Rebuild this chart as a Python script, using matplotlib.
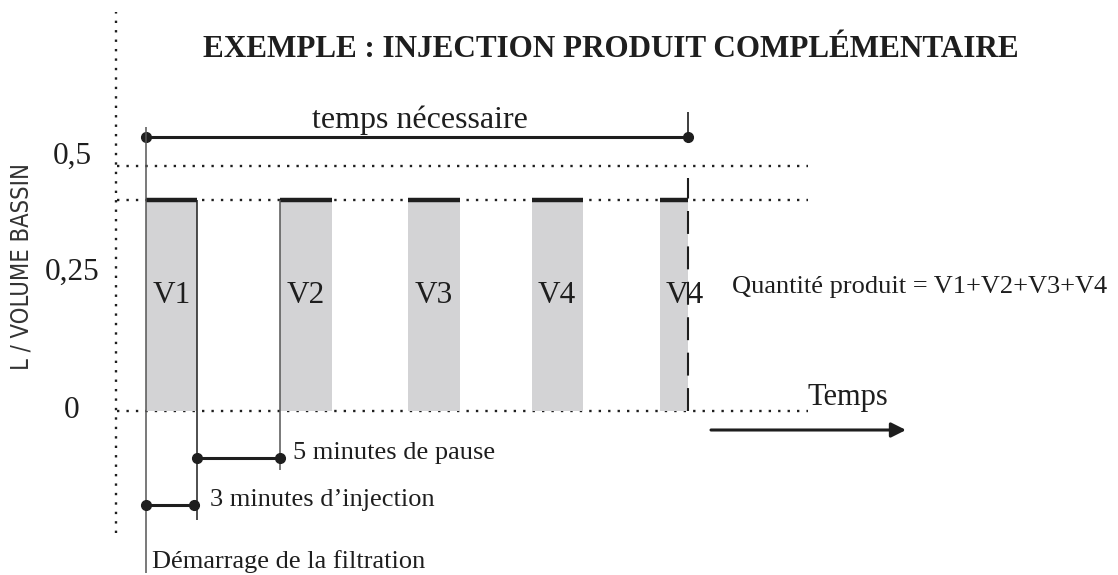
import matplotlib
matplotlib.use("Agg")
import matplotlib.pyplot as plt

# ---------------- data ----------------
title = "EXEMPLE : INJECTION PRODUIT COMPLÉMENTAIRE"
y_label = "L / VOLUME BASSIN"
tick_values = [0, 0.25, 0.5]
tick_labels = ["0", "0,25", "0,5"]
grid_levels = [0, 0.5]               # dotted reference lines
bar_labels = ["V1", "V2", "V3", "V4", "V4"]
bar_start = [0, 8.4, 16.4, 24.1, 32.1]      # minutes
bar_duration = [3.2, 3.2, 3.2, 3.2, 1.75]   # minutes
bar_level = 0.43                            # volume fraction
injection_min = 3
formula = "Quantité produit = V1+V2+V3+V4"

# ---------------- layout helpers (pixel -> data) ----------------
W, H = 1118, 575
X0, PXM = 146, 16.0     # px of t=0, px per minute
Y0, PXV = 411, 490.0    # px of v=0, px per unit volume


def tx(px):
    return (px - X0) / PXM


def vy(py):
    return (Y0 - py) / PXV


plt.rcParams['font.family'] = ['Liberation Serif', 'DejaVu Serif']
fig = plt.figure(figsize=(W / 100, H / 100), dpi=100)
ax = fig.add_axes([0, 0, 1, 1])
ax.set_xlim(tx(0), tx(W))
ax.set_ylim(vy(H), vy(0))
ax.axis('off')

ink = '#1e1e1e'
gray_line = '#555555'
dotted = (0, (1, 3))

# vertical dotted axis
ax.vlines(tx(116), vy(533), vy(12), colors=ink, linestyles=dotted, lw=1.7)
# horizontal dotted reference lines
for lev in grid_levels + [bar_level]:
    ax.hlines(lev, tx(117), tx(808), colors=ink, linestyles=dotted, lw=1.7, zorder=1)

# bars
ends = [s + d for s, d in zip(bar_start, bar_duration)]
ax.bar(bar_start, [bar_level] * len(bar_start), width=bar_duration, align='edge',
       color='#d3d3d5', linewidth=0, zorder=2)
ax.hlines([bar_level] * len(bar_start), bar_start, ends, colors=ink, lw=3.2, zorder=4)
full = max(bar_duration)
for s, lab in zip(bar_start, bar_labels):
    ax.text(s + full / 2, vy(303), lab, ha='center', va='baseline', fontsize=22.5,
            color=ink, zorder=5)

# tick labels
tick_base = [418, 280, 164]
for lab, b in zip(tick_labels, tick_base):
    ax.text(tx(72), vy(b), lab, ha='center', va='baseline', fontsize=22.5, color=ink)

# y label
ax.text(tx(22), vy(266), y_label, rotation=90, ha='center', va='center', fontsize=17,
        color='#333333', family='DejaVu Sans', fontstretch='condensed', fontweight=200)

# title
ax.text(tx(611), vy(57), title, ha='center', va='baseline', fontsize=22.4,
        fontweight='bold', color=ink)

# "temps nécessaire" span
t_end = ends[-1]
y_span = vy(137)
ax.plot([0, t_end], [y_span, y_span], color=ink, lw=2.2, marker='o', ms=7, zorder=5)
ax.text(tx(420), vy(128), "temps nécessaire", ha='center', va='baseline',
        fontsize=23, color=ink)

# start line (Démarrage)
ax.vlines(0, vy(573), vy(127), colors=gray_line, lw=1.1, zorder=6)
# end markers
ax.vlines(t_end, vy(143), vy(112), colors=ink, lw=1.2, zorder=6)
ax.vlines(t_end, 0, vy(178), colors=ink, lw=1.5, linestyles=(0, (11, 6)), zorder=6)

# bar edges used as brackets
ax.vlines(ends[0], vy(520), bar_level, colors=ink, lw=1.1, zorder=6)
ax.vlines(bar_start[1], vy(470), bar_level, colors=gray_line, lw=1.1, zorder=6)

# pause bracket
y_p = vy(458)
ax.plot([ends[0], bar_start[1]], [y_p, y_p], color=ink, lw=2.2, marker='o', ms=7, zorder=7)
ax.text(tx(293), vy(459), "5 minutes de pause", ha='left', va='baseline', fontsize=19, color=ink)

# injection bracket
y_i = vy(505)
ax.plot([0, injection_min], [y_i, y_i], color=ink, lw=2.2, marker='o', ms=7, zorder=7)
ax.text(tx(210), vy(506), "3 minutes d\u2019injection", ha='left', va='baseline', fontsize=19, color=ink)

ax.text(tx(152), vy(568), "Démarrage de la filtration", ha='left', va='baseline', fontsize=19, color=ink)

# formula and time axis
ax.text(tx(732), vy(293), formula, ha='left', va='baseline', fontsize=19, color=ink)
ax.text(tx(808), vy(405), "Temps", ha='left', va='baseline', fontsize=22, color=ink)
ax.annotate("", xy=(tx(906), vy(430)), xytext=(tx(711), vy(430)),
            arrowprops=dict(arrowstyle='-|>', color=ink, lw=2.2, mutation_scale=22,
                            shrinkA=0, shrinkB=0))

fig.savefig("out.png", dpi=100)
